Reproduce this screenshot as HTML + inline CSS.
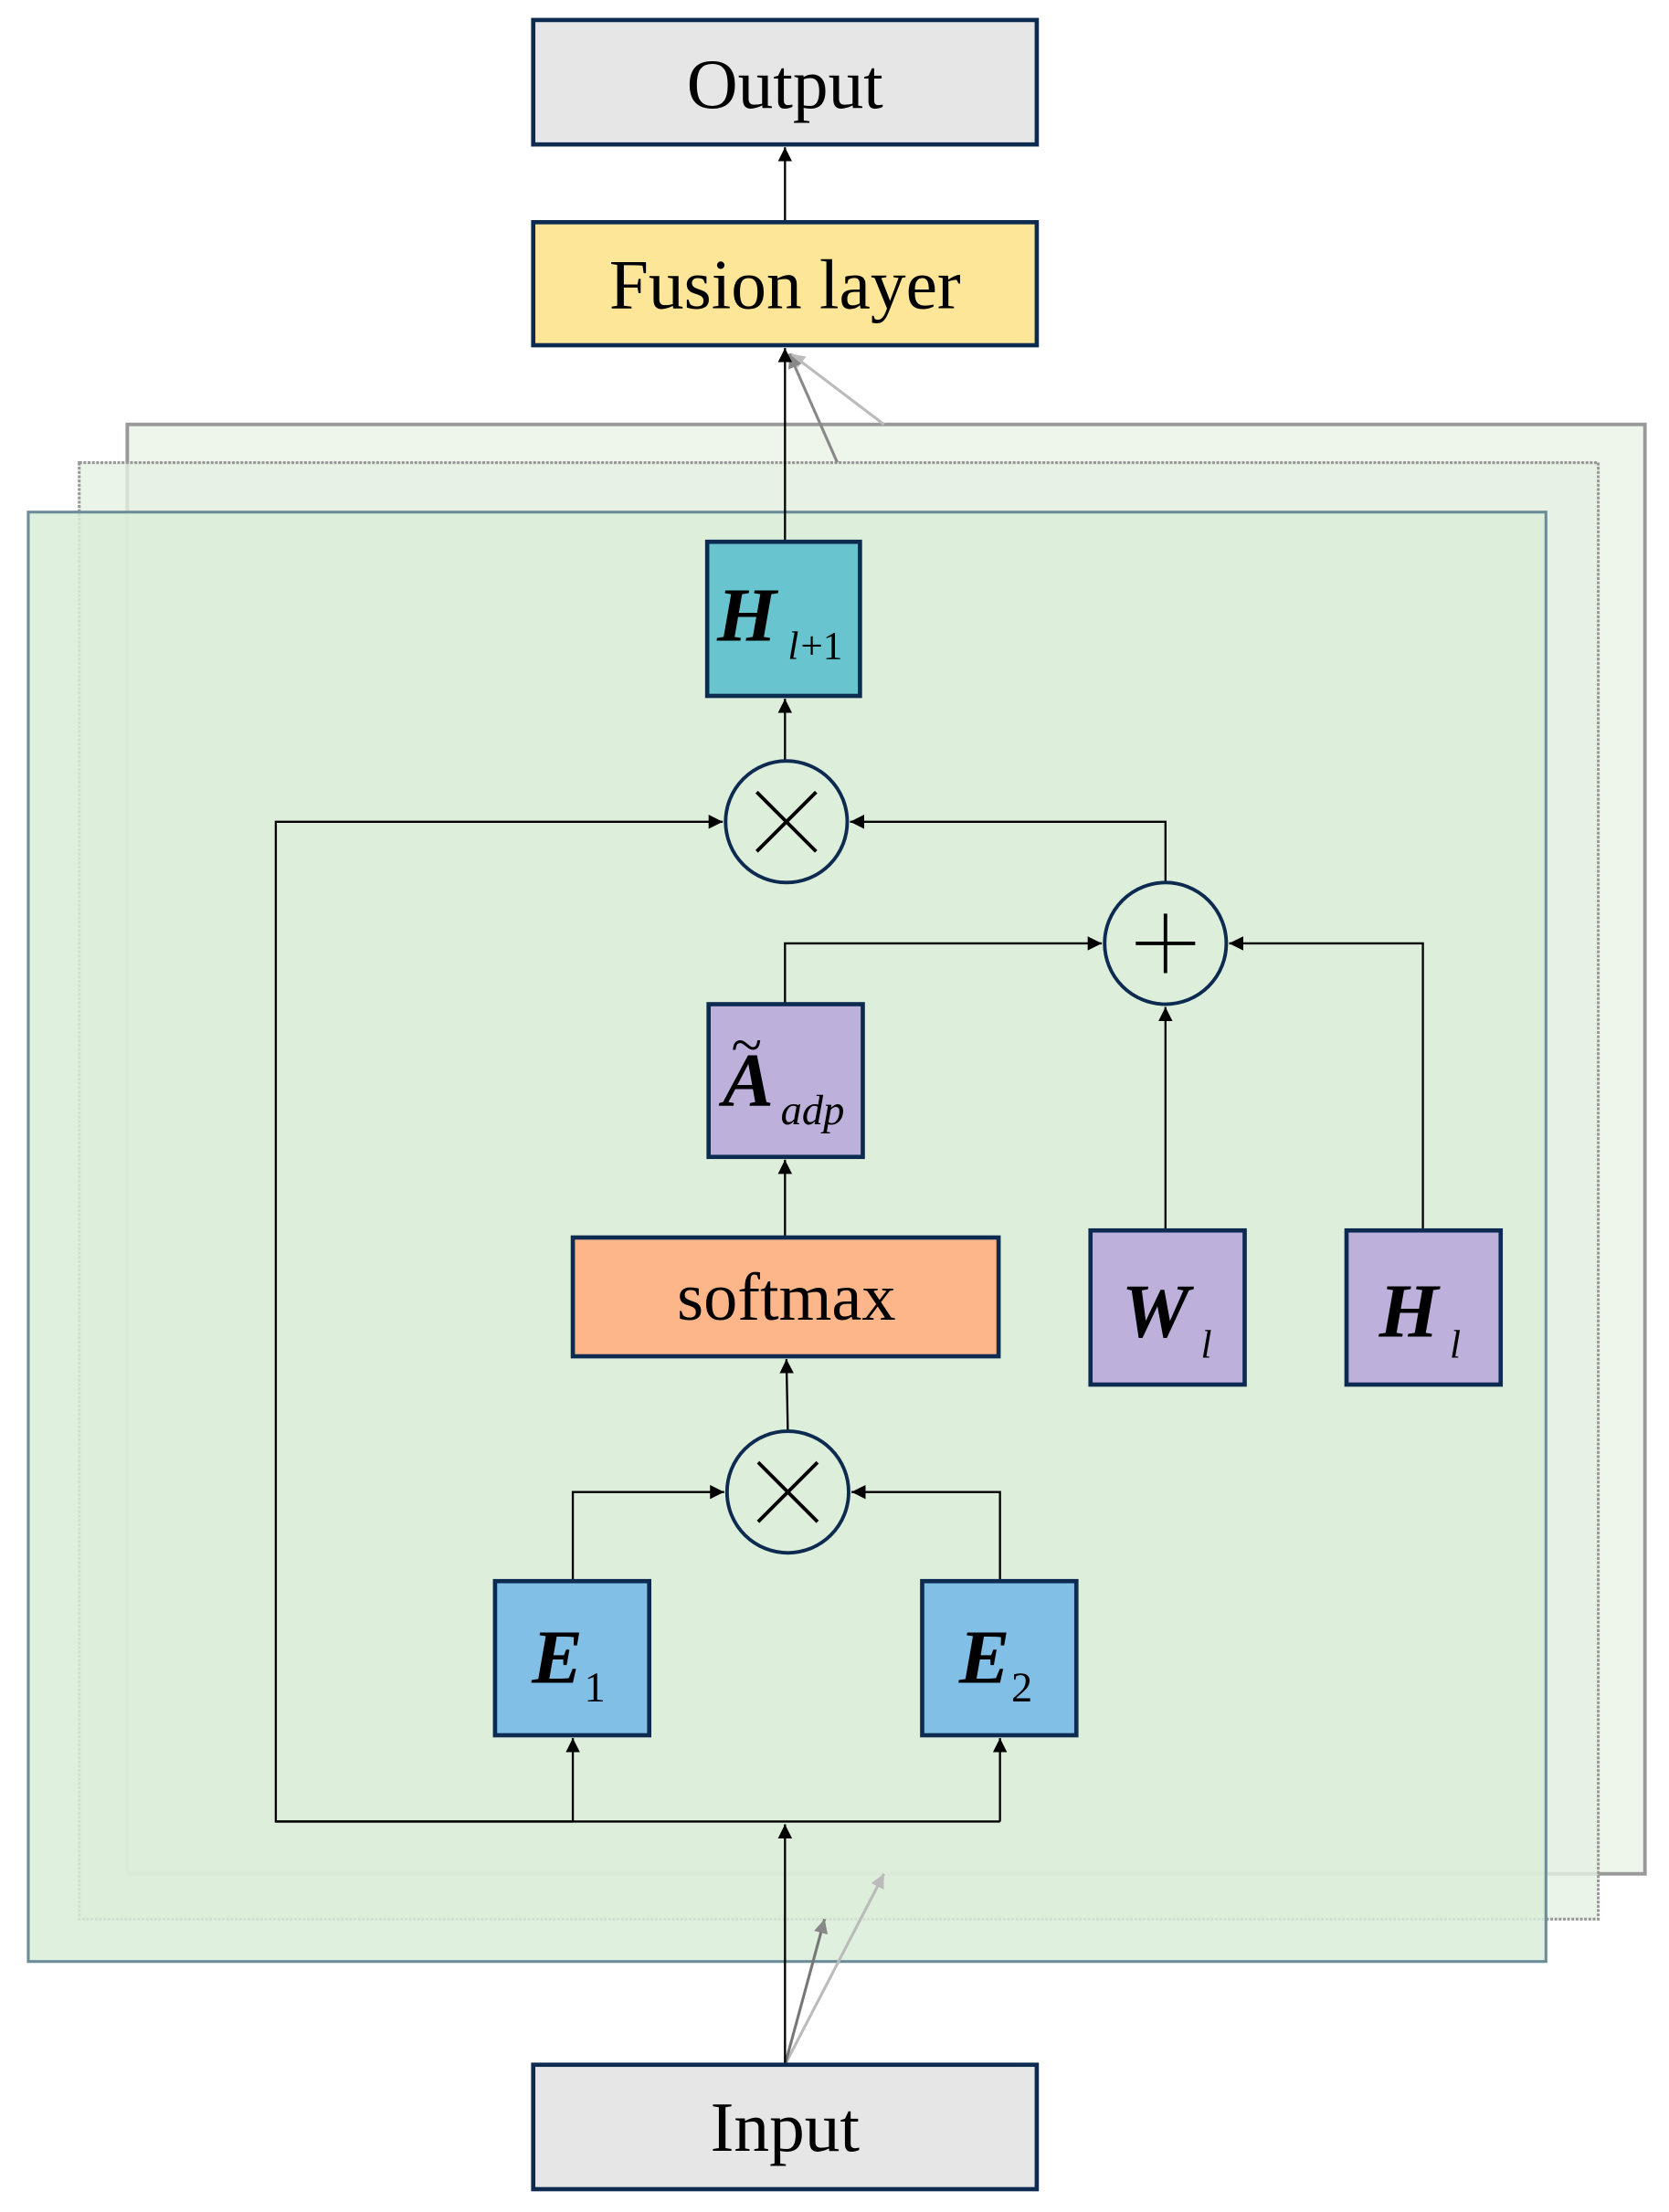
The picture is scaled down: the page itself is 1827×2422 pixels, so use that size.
<!DOCTYPE html>
<html><head><meta charset="utf-8"><style>html,body{margin:0;padding:0;background:#fff}svg{display:block}</style></head>
<body>
<svg width="1827" height="2422" viewBox="0 0 1180 1564" xmlns="http://www.w3.org/2000/svg" font-family="'Liberation Serif', serif">
<defs>
<marker id="a" viewBox="0 0 10 10" refX="10" refY="5" markerWidth="10" markerHeight="10" markerUnits="userSpaceOnUse" orient="auto"><path d="M0,0 L10,5 L0,10 Z" fill="#000"/></marker>
<marker id="ag" viewBox="0 0 10 10" refX="10" refY="5" markerWidth="10" markerHeight="10" markerUnits="userSpaceOnUse" orient="auto"><path d="M0,0 L10,5 L0,10 Z" fill="#888"/></marker>
<marker id="al" viewBox="0 0 10 10" refX="10" refY="5" markerWidth="10" markerHeight="10" markerUnits="userSpaceOnUse" orient="auto"><path d="M0,0 L10,5 L0,10 Z" fill="#bbb"/></marker>
</defs>
<rect x="377" y="14" width="356" height="88" fill="#e6e6e6" stroke="#0d2a50" stroke-width="3"/>
<text x="555" y="76" font-size="50" text-anchor="middle">Output</text>
<line x1="555" y1="157" x2="555" y2="104" stroke="#000" stroke-width="1.5" marker-end="url(#a)"/>
<rect x="377" y="157" width="356" height="87" fill="#fde698" stroke="#0d2a50" stroke-width="3"/>
<text x="555" y="218" font-size="50" text-anchor="middle">Fusion layer</text>
<rect x="90" y="300" width="1073" height="1025" fill="#eef5ea" stroke="#999" stroke-width="2.5"/>
<rect x="56" y="327" width="1074" height="1030" fill="#e6f1e2" fill-opacity="0.8" stroke="#999" stroke-width="2" stroke-dasharray="2,1"/>
<rect x="20" y="362" width="1073" height="1025" fill="#dbedd8" fill-opacity="0.85" stroke="#6d8c99" stroke-width="2"/>
<line x1="625" y1="300" x2="559" y2="250" stroke="#bbb" stroke-width="2" marker-end="url(#al)"/>
<line x1="592" y1="327" x2="558" y2="250" stroke="#888" stroke-width="2" marker-end="url(#ag)"/>
<line x1="555" y1="1460" x2="625" y2="1325" stroke="#bbb" stroke-width="2" marker-end="url(#al)"/>
<line x1="555" y1="1460" x2="583" y2="1357" stroke="#777" stroke-width="2" marker-end="url(#ag)"/>
<line x1="555" y1="383" x2="555" y2="246" stroke="#000" stroke-width="1.5" marker-end="url(#a)"/>
<rect x="500" y="383" width="108" height="109" fill="#68c4ce" stroke="#0d2a50" stroke-width="3"/>
<text x="507" y="453" font-size="54" font-style="italic" font-weight="bold">H</text>
<text x="557" y="466" font-size="28" font-style="italic">l</text><text x="566" y="466" font-size="28">+1</text>
<line x1="555" y1="538" x2="555" y2="494" stroke="#000" stroke-width="1.5" marker-end="url(#a)"/>
<circle cx="556" cy="581" r="43" fill="none" stroke="#0d2a50" stroke-width="2.5"/>
<path d="M535,560 L577,602 M577,560 L535,602" stroke="#000" stroke-width="2.5"/>
<polyline points="405,1288 195,1288 195,581 511,581" fill="none" stroke="#000" stroke-width="1.5" marker-end="url(#a)"/>
<polyline points="824,624 824,581 601,581" fill="none" stroke="#000" stroke-width="1.5" marker-end="url(#a)"/>
<circle cx="824" cy="667" r="43" fill="none" stroke="#0d2a50" stroke-width="2.5"/>
<path d="M824,646 L824,688 M803,667 L845,667" stroke="#000" stroke-width="2.5"/>
<polyline points="555,710 555,667 779,667" fill="none" stroke="#000" stroke-width="1.5" marker-end="url(#a)"/>
<rect x="501" y="710" width="109" height="108" fill="#bdb1dc" stroke="#0d2a50" stroke-width="3"/>
<text x="511" y="782" font-size="54" font-style="italic" font-weight="bold">A</text>
<text x="517" y="752" font-size="40">~</text>
<text x="552" y="795" font-size="30" font-style="italic">adp</text>
<line x1="824" y1="870" x2="824" y2="712" stroke="#000" stroke-width="1.5" marker-end="url(#a)"/>
<rect x="771" y="870" width="109" height="109" fill="#bdb1dc" stroke="#0d2a50" stroke-width="3"/>
<text x="793" y="945" font-size="54" font-style="italic" font-weight="bold">W</text>
<text x="849" y="960" font-size="28" font-style="italic">l</text>
<polyline points="1006,870 1006,667 869,667" fill="none" stroke="#000" stroke-width="1.5" marker-end="url(#a)"/>
<rect x="952" y="870" width="109" height="109" fill="#bdb1dc" stroke="#0d2a50" stroke-width="3"/>
<text x="975" y="945" font-size="54" font-style="italic" font-weight="bold">H</text>
<text x="1025" y="960" font-size="28" font-style="italic">l</text>
<line x1="555" y1="875" x2="555" y2="820" stroke="#000" stroke-width="1.5" marker-end="url(#a)"/>
<rect x="405" y="875" width="301" height="84" fill="#fdb689" stroke="#0d2a50" stroke-width="3"/>
<text x="556" y="933" font-size="48" text-anchor="middle">softmax</text>
<line x1="557" y1="1012" x2="556" y2="961" stroke="#000" stroke-width="1.5" marker-end="url(#a)"/>
<circle cx="557" cy="1055" r="43" fill="none" stroke="#0d2a50" stroke-width="2.5"/>
<path d="M536,1034 L578,1076 M578,1034 L536,1076" stroke="#000" stroke-width="2.5"/>
<polyline points="405,1118 405,1055 512,1055" fill="none" stroke="#000" stroke-width="1.5" marker-end="url(#a)"/>
<polyline points="707,1118 707,1055 602,1055" fill="none" stroke="#000" stroke-width="1.5" marker-end="url(#a)"/>
<rect x="350" y="1118" width="109" height="109" fill="#82bfe6" stroke="#0d2a50" stroke-width="3"/>
<text x="376" y="1190" font-size="54" font-style="italic" font-weight="bold">E</text>
<text x="413" y="1203" font-size="30">1</text>
<rect x="652" y="1118" width="109" height="109" fill="#82bfe6" stroke="#0d2a50" stroke-width="3"/>
<text x="678" y="1190" font-size="54" font-style="italic" font-weight="bold">E</text>
<text x="715" y="1203" font-size="30">2</text>
<line x1="195" y1="1288" x2="707" y2="1288" stroke="#000" stroke-width="1.5"/>
<line x1="405" y1="1288" x2="405" y2="1229" stroke="#000" stroke-width="1.5" marker-end="url(#a)"/>
<line x1="707" y1="1288" x2="707" y2="1229" stroke="#000" stroke-width="1.5" marker-end="url(#a)"/>
<line x1="555" y1="1460" x2="555" y2="1290" stroke="#000" stroke-width="1.5" marker-end="url(#a)"/>
<rect x="377" y="1460" width="356" height="88" fill="#e6e6e6" stroke="#0d2a50" stroke-width="3"/>
<text x="555" y="1521" font-size="50" text-anchor="middle">Input</text>
</svg>
</body></html>
